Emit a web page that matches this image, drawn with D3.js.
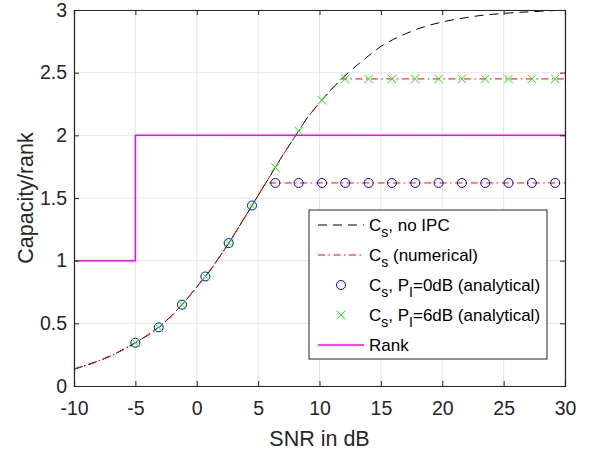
<!DOCTYPE html>
<html>
<head>
<meta charset="utf-8">
<script src="https://cdn.jsdelivr.net/npm/d3@7"></script>
<style>
  html, body { margin: 0; padding: 0; background: #fff; }
  svg { display: block; font-family: "Liberation Sans", Arial, Helvetica, sans-serif; }
</style>
</head>
<body>
<svg id="chart" width="592" height="454"></svg>
<script>
// ---- data ----
const snrGrid = [-10,-9,-8,-7,-6,-5,-4,-3,-2,-1,0,1,2,3,4,5,6,7,8,9,10,11,12,13,14,15,16,17,18,19,20,21,22,23,24,25,26,27,28,29,30];
const capNoIPC = [0.135,0.165,0.2,0.24,0.29,0.345,0.405,0.475,0.565,0.67,0.79,0.91,1.05,1.2,1.36,1.52,1.68,1.84,1.99,2.14,2.26,2.37,2.47,2.555,2.635,2.71,2.765,2.81,2.85,2.88,2.905,2.925,2.94,2.955,2.965,2.973,2.98,2.985,2.99,2.995,2.998];

const snrNum0 = [-10,-9,-8,-7,-6,-5,-4,-3,-2,-1,0,1,2,3,4,5,5.62,30];
const capNum0 = [0.135,0.165,0.2,0.24,0.29,0.345,0.405,0.475,0.565,0.67,0.79,0.91,1.05,1.2,1.36,1.52,1.62,1.62];

const snrNum6 = [-10,-9,-8,-7,-6,-5,-4,-3,-2,-1,0,1,2,3,4,5,6,7,8,9,10,11,11.8,30];
const capNum6 = [0.135,0.165,0.2,0.24,0.29,0.345,0.405,0.475,0.565,0.67,0.79,0.91,1.05,1.2,1.36,1.52,1.68,1.84,1.99,2.14,2.26,2.37,2.45,2.45];

const snrMarkers = [-5,-3.1,-1.2,0.7,2.6,4.5,6.4,8.3,10.2,12.1,14,15.9,17.8,19.7,21.6,23.5,25.4,27.3,29.2];
const capAna0 = [0.345,0.468,0.649,0.874,1.14,1.44,1.62,1.62,1.62,1.62,1.62,1.62,1.62,1.62,1.62,1.62,1.62,1.62,1.62];
const capAna6 = [0.345,0.468,0.649,0.874,1.14,1.44,1.744,2.035,2.28,2.45,2.45,2.45,2.45,2.45,2.45,2.45,2.45,2.45,2.45];

const snrRank = [-10,-5,-5,30];
const rankVals = [1,1,2,2];

const xTicks = [-10,-5,0,5,10,15,20,25,30];
const xTickLabels = ["-10","-5","0","5","10","15","20","25","30"];
const yTicks = [0,0.5,1,1.5,2,2.5,3];
const yTickLabels = ["0","0.5","1","1.5","2","2.5","3"];
const xLabel = "SNR in dB";
const yLabel = "Capacity/rank";

// ---- layout ----
const svg = d3.select("#chart");
const L = 74, R = 565, T = 10, B = 386;
const x = d3.scaleLinear().domain([-10, 30]).range([L, R]);
const y = d3.scaleLinear().domain([0, 3]).range([B, T]);
const axisColor = "#262626";
const dashed = "9,6", dashDot = "7,3.5,1.5,3.5";

// grid
const grid = svg.append("g");
grid.selectAll("line.gx").data(xTicks).join("line")
  .attr("x1", d => x(d)).attr("x2", d => x(d)).attr("y1", T).attr("y2", B)
  .attr("stroke", "#e6e6e6").attr("stroke-width", 1);
grid.selectAll("line.gy").data(yTicks).join("line")
  .attr("y1", d => y(d)).attr("y2", d => y(d)).attr("x1", L).attr("x2", R)
  .attr("stroke", "#e6e6e6").attr("stroke-width", 1);

// data lines
const line = (xs, ys) => d3.line().x((d, i) => x(xs[i])).y((d, i) => y(ys[i]))(xs);

svg.append("path").attr("d", line(snrGrid, capNoIPC))
  .attr("fill", "none").attr("stroke", "#000").attr("stroke-width", 1)
  .attr("stroke-dasharray", dashed);
svg.append("path").attr("d", line(snrNum0, capNum0))
  .attr("fill", "none").attr("stroke", "#ff0000").attr("stroke-width", 1)
  .attr("stroke-dasharray", dashDot);
svg.append("path").attr("d", line(snrNum6, capNum6))
  .attr("fill", "none").attr("stroke", "#ff0000").attr("stroke-width", 1)
  .attr("stroke-dasharray", dashDot);

// markers
svg.append("g").selectAll("circle").data(snrMarkers).join("circle")
  .attr("cx", d => x(d)).attr("cy", (d, i) => y(capAna0[i])).attr("r", 4.5)
  .attr("fill", "none").attr("stroke", "#0000ff").attr("stroke-width", 1);
const cs = 4.2;
const crossG = svg.append("g");
snrMarkers.forEach((d, i) => {
  const cx = x(d), cy = y(capAna6[i]);
  crossG.append("path")
    .attr("d", `M${cx-cs},${cy-cs}L${cx+cs},${cy+cs}M${cx-cs},${cy+cs}L${cx+cs},${cy-cs}`)
    .attr("stroke", "#00ff00").attr("stroke-width", 1).attr("fill", "none");
});

// rank
svg.append("path").attr("d", line(snrRank, rankVals))
  .attr("fill", "none").attr("stroke", "#ff00ff").attr("stroke-width", 1.5);

// axes (MATLAB box style)
const tickLen = 5;
const gx = svg.append("g").attr("transform", `translate(0,${B})`)
  .call(d3.axisBottom(x).tickValues(xTicks).tickSize(-tickLen).tickPadding(15)
    .tickFormat((d, i) => xTickLabels[i]));
const gy = svg.append("g").attr("transform", `translate(${L},0)`)
  .call(d3.axisLeft(y).tickValues(yTicks).tickSize(-tickLen).tickPadding(7)
    .tickFormat((d, i) => yTickLabels[i]));
const gxt = svg.append("g").attr("transform", `translate(0,${T})`)
  .call(d3.axisTop(x).tickValues(xTicks).tickSize(-tickLen).tickFormat(""));
const gyr = svg.append("g").attr("transform", `translate(${R},0)`)
  .call(d3.axisRight(y).tickValues(yTicks).tickSize(-tickLen).tickFormat(""));
[gx, gy, gxt, gyr].forEach(g => {
  g.select(".domain").attr("stroke", axisColor).attr("stroke-width", 1.2);
  g.selectAll(".tick line").attr("stroke", axisColor);
  g.selectAll(".tick text").attr("fill", axisColor)
    .style("font-family", "'Liberation Sans', Arial, sans-serif").style("font-size", "19.5px");
});

// axis labels
svg.append("text").attr("x", (L + R) / 2).attr("y", 446).attr("text-anchor", "middle")
  .attr("fill", axisColor).style("font-size", "21.5px").text(xLabel);
svg.append("text").attr("transform", `translate(33,${(T + B) / 2}) rotate(-90)`)
  .attr("text-anchor", "middle").attr("fill", axisColor).style("font-size", "21.5px").text(yLabel);

// legend
const lg = svg.append("g");
const lx0 = 309, ly0 = 210, lx1 = 547, ly1 = 359;
lg.append("rect").attr("x", lx0).attr("y", ly0).attr("width", lx1 - lx0).attr("height", ly1 - ly0)
  .attr("fill", "#fff").attr("stroke", axisColor).attr("stroke-width", 1);
const rowsY = [225, 255, 285, 315, 345];
const sx0 = 318, sx1 = 364, tx = 369;
lg.append("line").attr("x1", sx0).attr("x2", sx1).attr("y1", rowsY[0]).attr("y2", rowsY[0])
  .attr("stroke", "#000").attr("stroke-width", 1).attr("stroke-dasharray", dashed);
lg.append("line").attr("x1", sx0).attr("x2", sx1).attr("y1", rowsY[1]).attr("y2", rowsY[1])
  .attr("stroke", "#ff0000").attr("stroke-width", 1).attr("stroke-dasharray", dashDot);
lg.append("circle").attr("cx", (sx0 + sx1) / 2).attr("cy", rowsY[2]).attr("r", 4.5)
  .attr("fill", "none").attr("stroke", "#0000ff").attr("stroke-width", 1);
{
  const cx = (sx0 + sx1) / 2, cy = rowsY[3];
  lg.append("path").attr("d", `M${cx-cs},${cy-cs}L${cx+cs},${cy+cs}M${cx-cs},${cy+cs}L${cx+cs},${cy-cs}`)
    .attr("stroke", "#00ff00").attr("stroke-width", 1);
}
lg.append("line").attr("x1", sx0).attr("x2", sx1).attr("y1", rowsY[4]).attr("y2", rowsY[4])
  .attr("stroke", "#ff00ff").attr("stroke-width", 1.5);

const legendParts = [
  [["C", 0], ["s", 1], [", no IPC", 0]],
  [["C", 0], ["s", 1], [" (numerical)", 0]],
  [["C", 0], ["s", 1], [", P", 0], ["I", 1], ["=0dB (analytical)", 0]],
  [["C", 0], ["s", 1], [", P", 0], ["I", 1], ["=6dB (analytical)", 0]],
  [["Rank", 0]]
];
legendParts.forEach((parts, i) => {
  const t = lg.append("text").attr("x", tx).attr("y", rowsY[i] + 6)
    .attr("fill", "#000").style("font-size", "17px");
  let prevSub = 0;
  parts.forEach(([s, sub]) => {
    const dy = sub && !prevSub ? 6 : (!sub && prevSub ? -6 : 0);
    t.append("tspan").attr("dy", dy).style("font-size", sub ? "14px" : "17px").text(s);
    prevSub = sub;
  });
});
</script>
</body>
</html>
